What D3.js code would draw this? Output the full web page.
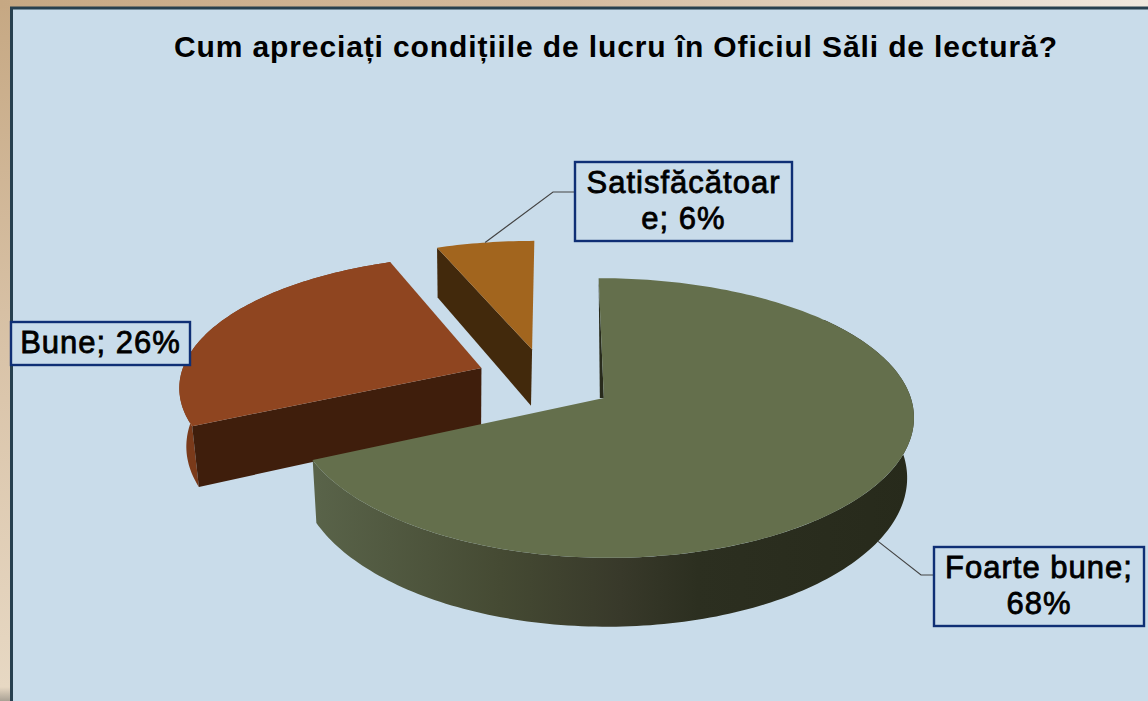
<!DOCTYPE html>
<html>
<head>
<meta charset="utf-8">
<script src="https://cdn.jsdelivr.net/npm/d3@7"></script>
<style>
  html, body { margin: 0; padding: 0; background: #fff; }
  svg { display: block; }
  text { font-family: "Liberation Sans", Arial, sans-serif; fill: #000; }
</style>
</head>
<body>
<div id="chart"></div>
<script>
// data
var title = "Cum apreciați condițiile de lucru în Oficiul Săli de lectură?";
var categories = ["Foarte bune", "Bune", "Satisfăcătoare"];
var percents = [68, 26, 6];
var labelLines = [["Foarte bune;", "68%"], ["Bune; 26%"], ["Satisfăcătoar", "e; 6%"]];

// styles, same order as categories
var topColors = ["#646f4c", "#8f4520", "#a2651e"];
var wallColors = ["#282b1c", "#3f1e0c", "#42290c"];
var rimColors = ["url(#greenWall)", "#7a3a1a", null];
var rimSkip = [0.9, 0, 0];                                 // back of the rim is hidden
var shifts = [[0.006, 0], [-0.40, -0.226], [-0.232, -0.372]];   // exploded slices, in disk units

var width = 1148, height = 701;

// projection of the tilted disk
var cx = 602, cy = 398, rx = 307, ry = 137, depth = 59;
var perspX = 0.125, perspY = 0.143, shear = 5;
var bottomCenter = 460, bottomLeft = 0.975, bottomRight = 0.985;

function project(X, Y, z) {
  var x = cx + rx * X / (1 - perspX * Y) + shear * Y;
  var sy = 1 / (1 - perspY * Y);
  if (z) x = bottomCenter + (x - bottomCenter) * (x < bottomCenter ? bottomLeft : bottomRight);
  return [x, cy + ry * Y * sy + z * depth * sy];
}

function rimPoints(d, a0, a1, z, reverse) {
  var n = Math.max(2, Math.ceil(Math.abs(a1 - a0) / 0.02));
  var steps = d3.range(n + 1).map(function(i) { return a0 + (a1 - a0) * i / n; });
  if (reverse) steps.reverse();
  return steps.map(function(a) {
    return rimPoint(d, a, z);
  });
}

function rimPoint(d, a, z) {
  return project(d.shift[0] + Math.sin(a), d.shift[1] - Math.cos(a), z);
}

var line = d3.line().curve(d3.curveLinear);

var pie = d3.pie().sort(null)(percents);
var slices = pie.map(function(p, i) {
  return {startAngle: p.startAngle, endAngle: p.endAngle, shift: shifts[i], index: i};
});

var svg = d3.select("#chart").append("svg").attr("width", width).attr("height", height);
var defs = svg.append("defs");

var grad = defs.append("linearGradient").attr("id", "wallBg")
  .attr("x1", 0).attr("y1", 0).attr("x2", 0).attr("y2", 1);
grad.append("stop").attr("offset", 0).attr("stop-color", "#c6a883");
grad.append("stop").attr("offset", 0.5).attr("stop-color", "#d9c3a8");
grad.append("stop").attr("offset", 0.98).attr("stop-color", "#e7d8c3");
grad.append("stop").attr("offset", 1).attr("stop-color", "#a9a194");

var topGrad = defs.append("linearGradient").attr("id", "topBg");
topGrad.append("stop").attr("offset", 0).attr("stop-color", "#c6a883");
topGrad.append("stop").attr("offset", 0.5).attr("stop-color", "#d5bc9f");
topGrad.append("stop").attr("offset", 1).attr("stop-color", "#f0e9df");

var green = defs.append("linearGradient").attr("id", "greenWall")
  .attr("gradientUnits", "userSpaceOnUse")
  .attr("x1", 316).attr("y1", 0).attr("x2", 913).attr("y2", 0);
green.append("stop").attr("offset", 0).attr("stop-color", "#596349");
green.append("stop").attr("offset", 0.31).attr("stop-color", "#454a33");
green.append("stop").attr("offset", 0.51).attr("stop-color", "#38392a");
green.append("stop").attr("offset", 0.64).attr("stop-color", "#2c2f20");
green.append("stop").attr("offset", 1).attr("stop-color", "#272a1b");

// backdrop and panel
svg.append("rect").attr("width", 12).attr("height", height).attr("fill", "url(#wallBg)");
svg.append("rect").attr("width", width).attr("height", 8).attr("fill", "url(#topBg)");
svg.append("rect").attr("x", 11.5).attr("y", 8).attr("width", width).attr("height", height)
  .attr("fill", "#c9dcea").attr("stroke", "#27404f").attr("stroke-width", 3);

svg.append("text").attr("x", 174).attr("y", 57)
  .attr("font-size", 30).attr("font-weight", "bold").attr("letter-spacing", 0.88)
  .text(title);

// draw back to front
[2, 1, 0].forEach(function(i) {
  var d = slices[i];
  var g = svg.append("g");
  var apexTop = project(d.shift[0], d.shift[1], 0);
  var apexBottom = project(d.shift[0], d.shift[1], 1);
  var edgeTop = rimPoint(d, d.startAngle, 0);
  var edgeBottom = rimPoint(d, d.startAngle, 1);

  if (i === 0) {
    // far radius wall, only a thin dark sliver shows
    g.append("path").attr("fill", wallColors[i])
      .attr("d", line([edgeTop, apexTop, [apexTop[0] - 4, apexTop[1]]]) + "Z");
  }

  if (rimColors[i]) {
    var a0 = d.startAngle + rimSkip[i];
    g.append("path").attr("fill", rimColors[i])
      .attr("d", line(rimPoints(d, a0, d.endAngle, 0)
        .concat(rimPoints(d, a0, d.endAngle, 1, true))) + "Z");
  }

  if (i > 0) {
    g.append("path").attr("fill", wallColors[i])
      .attr("d", line([apexTop, edgeTop, edgeBottom, apexBottom]) + "Z");
  }

  // top face
  g.append("path").attr("fill", topColors[i])
    .attr("d", line([apexTop].concat(rimPoints(d, d.startAngle, d.endAngle, 0))) + "Z");
});

// leader lines start at the middle of each slice rim
function leader(i, z, elbow, end) {
  var d = slices[i];
  var start = rimPoint(d, (d.startAngle + d.endAngle) / 2, z);
  svg.append("path").attr("fill", "none").attr("stroke", "#444").attr("stroke-width", 1.2)
    .attr("d", line([start, elbow, end]));
}
leader(0, 1, [921, 575], [934, 575]);
leader(2, 0, [553, 192], [575, 192]);

// data labels
var labelBoxes = [[934, 547, 210, 79], [11, 322, 179, 43], [575, 162, 217, 79]];
labelLines.forEach(function(lines, i) {
  var b = labelBoxes[i];
  svg.append("rect").attr("x", b[0]).attr("y", b[1]).attr("width", b[2]).attr("height", b[3])
    .attr("fill", "#c9dcea").attr("stroke", "#0f2f75").attr("stroke-width", 2.4);
  lines.forEach(function(t, j) {
    svg.append("text")
      .attr("x", b[0] + b[2] / 2)
      .attr("y", b[1] + (b[3] - lines.length * 36) / 2 + 36 * j + 27)
      .attr("text-anchor", "middle")
      .attr("font-size", 31)
      .attr("letter-spacing", 1)
      .attr("stroke", "#000").attr("stroke-width", 0.8)
      .text(t);
  });
});
</script>
</body>
</html>
